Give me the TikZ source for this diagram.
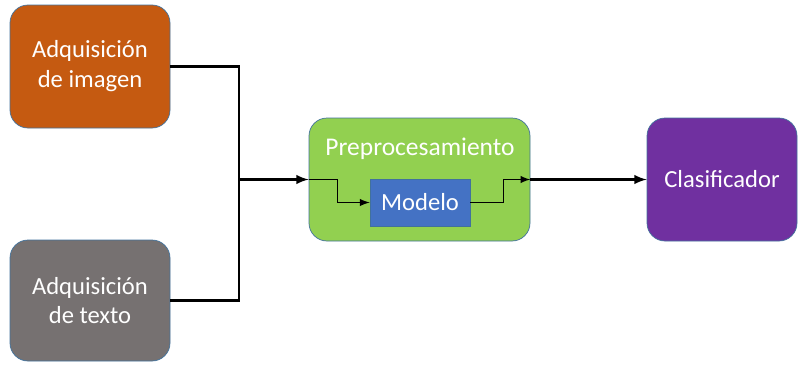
\documentclass[tikz,border=0pt]{standalone}
\usepackage{fontspec}
\setmainfont{Carlito}
\usepackage{tikz}
\usetikzlibrary{calc}
\usetikzlibrary{arrows}
\usetikzlibrary{positioning}
\usepackage{color}
\definecolor{naranja}{RGB}{197, 90, 17}
\definecolor{gris}{RGB}{118, 113, 113}
\definecolor{verde}{RGB}{146, 208, 80}
\definecolor{azul}{RGB}{68, 114, 196}
\definecolor{morado}{RGB}{112, 48, 160}
\definecolor{borde}{RGB}{65, 113, 156}

\begin{document}
\begin{tikzpicture}[
        bloque/.style={draw=borde, thin, rounded corners=0.36cm, text=white, align=center,
                       font=\fontsize{14}{17}\selectfont, inner sep=0pt},
        flecha/.style={-latex, line width=1.4pt},
        linea/.style={line width=1.4pt},
        fina/.style={-latex, line width=0.9pt}
    ]
            \useasboundingbox                                               (0.00, 0.00) rectangle (15.98, 7.32);
            \node[bloque, fill=naranja, minimum width=3.20cm, minimum height=2.46cm] (imagen)  at ( 1.80, 5.99) {Adquisición\\de imagen};
            \node[bloque, fill=gris,    minimum width=3.20cm, minimum height=2.42cm] (texto)   at ( 1.80, 1.31) {Adquisición\\de texto};
            \node[bloque, fill=verde,   minimum width=4.42cm, minimum height=2.46cm] (prep)    at ( 8.39, 3.73) {};
            \node[text=white, font=\fontsize{14.5}{17}\selectfont]                     (titulo)  at ( 8.40, 4.34) {Preprocesamiento};
            \node[bloque, fill=azul, rounded corners=0pt, minimum width=2.00cm, minimum height=0.94cm] (modelo) at ( 8.40, 3.27) {Modelo};
            \node[bloque, fill=morado,  minimum width=3.00cm, minimum height=2.46cm] (clasif)  at (14.44, 3.73) {Clasificador};
            \coordinate (junta) at (4.78, 3.73);
            % entradas
            \draw[linea]  (imagen.east) -| (junta);
            \draw[linea]  (texto.east)  -| (junta);
            \draw[flecha] (junta) -- (prep.west);
            % dentro del preprocesamiento
            \draw[fina]   (prep.west) -- ++(0.58,0) |- (modelo.west);
            \draw[fina]   (modelo.east) -- ++(0.66,0) |- (prep.east);
            \draw[flecha] (prep.east) -- (clasif.west);
\end{tikzpicture}
\end{document}
